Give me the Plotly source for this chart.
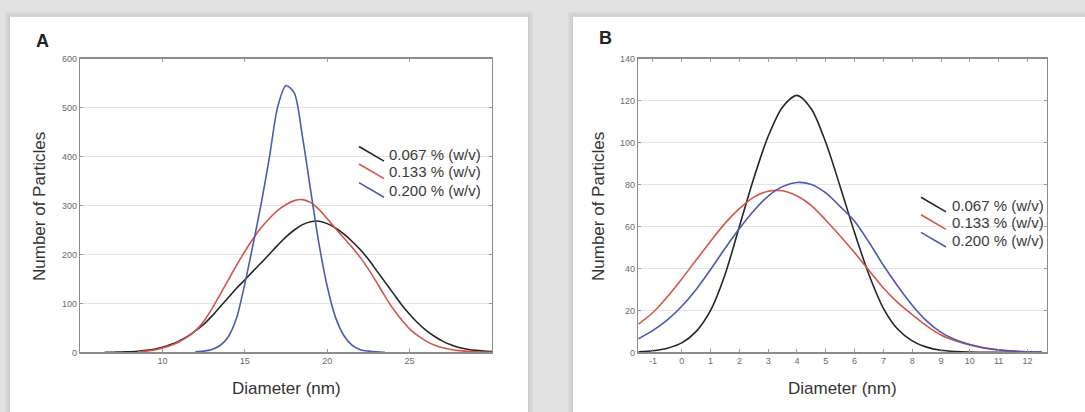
import plotly.graph_objects as go

W, H = 1085, 412

# ---------------- Panel A data (Diameter nm, Number of particles) ----------------
A_X_0067 = [6.5, 7.0, 7.5, 8.0, 8.5, 9.0, 9.5, 10.0, 10.5, 11.0, 11.5, 12.0, 12.5, 13.0, 13.5, 14.0,
            14.5, 15.0, 15.5, 16.0, 16.5, 17.0, 17.5, 18.0, 18.5, 19.0, 19.5, 20.0, 20.5, 21.0, 21.5,
            22.0, 22.5, 23.0, 23.5, 24.0, 24.5, 25.0, 25.5, 26.0, 26.5, 27.0, 27.5, 28.0, 28.5, 29.0,
            29.5, 30.0]
A_Y_0067 = [0, 0.3, 0.7, 1.3, 2.2, 4, 6.5, 10.5, 16, 23, 32, 44, 57, 74, 93, 112,
            131, 148, 166, 183, 201, 219, 236, 250, 261, 267, 268, 263, 254, 242, 227,
            210, 190, 167, 144, 121, 98, 78, 60, 45, 33, 23, 15.5, 10, 6.5, 4,
            2.5, 1.5]

A_X_0133 = [8.5, 9.0, 9.5, 10.0, 10.5, 11.0, 11.5, 12.0, 12.5, 13.0, 13.5, 14.0, 14.5, 15.0,
            15.5, 16.0, 16.5, 17.0, 17.5, 18.0, 18.5, 19.0, 19.5, 20.0, 20.5, 21.0, 21.5, 22.0,
            22.5, 23.0, 23.5, 24.0, 24.5, 25.0, 25.5, 26.0, 26.5, 27.0, 27.5, 28.0, 28.5, 29.0,
            29.5, 30.0]
A_Y_0133 = [1, 2.5, 5, 9, 14, 21, 31, 44, 63, 89, 118, 148, 178, 206,
            232, 255, 274, 290, 302, 310, 312, 306, 292, 273, 253, 234, 215, 194,
            170, 143, 115, 89, 67, 48, 34, 23, 15, 9.5, 6, 3.5, 2, 1,
            0.5, 0.2]

A_X_0200 = [12.0, 12.5, 13.0, 13.5, 14.0, 14.5, 15.0, 15.5, 16.0, 16.5, 17.0, 17.5, 18.0, 18.5,
            19.0, 19.5, 20.0, 20.5, 21.0, 21.5, 22.0, 22.5, 23.0, 23.5]
A_Y_0200 = [1, 2.5, 6, 14, 32, 70, 140, 220, 305, 400, 502, 545, 530, 440,
            330, 222, 135, 72, 35, 14.6, 5.5, 2.5, 1, 0.3]

A_XTICKS = [10, 15, 20, 25]

# ---------------- Panel B data ----------------
B_X = [-1.5, -1.0, -0.5, 0.0, 0.5, 1.0, 1.5, 2.0, 2.5, 3.0, 3.5, 4.0, 4.5, 5.0, 5.5, 6.0, 6.5,
       7.0, 7.5, 8.0, 8.5, 9.0, 9.5, 10.0, 10.5, 11.0, 11.5, 12.0, 12.5]
B_Y_0067 = [0.3, 0.8, 2, 4.5, 10, 20, 37, 60, 83, 103, 117, 122.5, 116, 100, 79, 57, 37,
            21, 11, 5.5, 2.5, 1, 0.4, 0.1, 0, 0, 0, 0, 0]
B_Y_0133 = [13.5, 19, 26.5, 35, 44, 53, 61.5, 68.5, 74, 76.8, 77, 74.5, 70, 63, 55.5, 47.5, 39,
            30.7, 23.7, 18, 12.6, 8.3, 5.5, 3.5, 2, 1.1, 0.6, 0.3, 0.1]
B_Y_0200 = [6.5, 10.5, 15.5, 22, 30, 39.5, 49.5, 59, 67.5, 74.5, 79, 81, 80, 76, 69.5, 62.5, 52.5,
            41.5, 31.5, 22.5, 15, 9.5, 6, 3.7, 2.2, 1.2, 0.6, 0.3, 0.1]

B_XTICKS = [-1, 0, 1, 2, 3, 4, 5, 6, 7, 8, 9, 10, 11, 12]
B_XTICKTEXT = ["-1", "0", "1", "2", "3", "4", "5", "6", "7", "8", "9", "10", "11", "12"]

SERIES_NAMES = ["0.067 % (w/v)", "0.133 % (w/v)", "0.200 % (w/v)"]
COLORS = ["#262626", "#d4564b", "#4d5ab0"]

FONT = "Liberation Sans, Arial, sans-serif"


def fx(px):
    return px / W


def fy(py):
    return 1 - py / H


fig = go.Figure()

panel_a = [(A_X_0067, A_Y_0067), (A_X_0133, A_Y_0133), (A_X_0200, A_Y_0200)]
panel_b = [(B_X, B_Y_0067), (B_X, B_Y_0133), (B_X, B_Y_0200)]

for (xs, ys), name, col in zip(panel_a, SERIES_NAMES, COLORS):
    fig.add_trace(go.Scatter(x=xs, y=ys, mode="lines", name=name,
                             line=dict(color=col, width=1.6, shape="spline", smoothing=0.8),
                             xaxis="x", yaxis="y", showlegend=False, hoverinfo="skip"))
for (xs, ys), name, col in zip(panel_b, SERIES_NAMES, COLORS):
    fig.add_trace(go.Scatter(x=xs, y=ys, mode="lines", name=name,
                             line=dict(color=col, width=1.6, shape="spline", smoothing=0.8),
                             xaxis="x2", yaxis="y2", showlegend=False, hoverinfo="skip"))

axis_common = dict(showline=True, linecolor="#8c8c8c", linewidth=1.2, mirror="ticks",
                   ticks="inside", ticklen=3, tickcolor="#999999", zeroline=False,
                   tickfont=dict(family=FONT, size=9, color="#6a6a6a"))

plot_top, plot_bot = 55, 356

fig.update_layout(
    width=W, height=H,
    margin=dict(l=0, r=0, t=0, b=0),
    paper_bgcolor="#e2e2e2",
    plot_bgcolor="white",
    font=dict(family=FONT, color="#333333"),
    xaxis=dict(domain=[fx(80), fx(492)], anchor="y", range=[5, 30], tickvals=A_XTICKS,
               showgrid=False, **axis_common),
    yaxis=dict(domain=[fy(plot_bot), fy(plot_top)], anchor="x", range=[0, 600], dtick=100,
               showgrid=True, gridcolor="#e4e4e4", gridwidth=1, **axis_common),
    xaxis2=dict(domain=[fx(638), fx(1047)], anchor="y2", range=[-1.52, 12.68],
                tickvals=B_XTICKS, ticktext=B_XTICKTEXT, showgrid=False, **axis_common),
    yaxis2=dict(domain=[fy(plot_bot), fy(plot_top)], anchor="x2", range=[0, 140], dtick=20,
                showgrid=True, gridcolor="#e4e4e4", gridwidth=1, **axis_common),
)

shapes = []
# card shadows and white cards
for (x0, x1) in [(10, 528), (573, 1095)]:
    for k, c in [(5, "#d9d9d9"), (3, "#d2d2d2"), (1, "#cacaca")]:
        shapes.append(dict(type="rect", xref="paper", yref="paper", layer="below",
                           x0=fx(x0 - k), x1=fx(x1 + k), y0=fy(H + 20), y1=fy(12 - k),
                           line=dict(width=0), fillcolor=c))
    shapes.append(dict(type="rect", xref="paper", yref="paper", layer="below",
                       x0=fx(x0), x1=fx(x1), y0=fy(H + 20), y1=fy(12),
                       line=dict(width=0), fillcolor="white"))

annotations = []
# legends (diagonal line samples + labels)
legend_specs = [(359, 384, 387, [153, 171, 190]), (921, 946, 950, [205, 223, 241])]
for lx0, lx1, tx, rows in legend_specs:
    for row, name, col in zip(rows, SERIES_NAMES, COLORS):
        shapes.append(dict(type="line", xref="paper", yref="paper", layer="above",
                           x0=fx(lx0), x1=fx(lx1), y0=fy(row - 8), y1=fy(row + 7),
                           line=dict(color=col, width=1.6)))
        annotations.append(dict(xref="paper", yref="paper", x=fx(tx), y=fy(row),
                                xanchor="left", yanchor="middle", showarrow=False,
                                text=name, font=dict(family=FONT, size=15, color="#3a3a3a")))

# axis titles
for cx in [286, 842]:
    annotations.append(dict(xref="paper", yref="paper", x=fx(cx), y=fy(393),
                            xanchor="center", yanchor="middle", showarrow=False,
                            text="Diameter (nm)", font=dict(family=FONT, size=17, color="#333333")))
for cx in [40, 599]:
    annotations.append(dict(xref="paper", yref="paper", x=fx(cx), y=fy(207),
                            xanchor="center", yanchor="middle", showarrow=False, textangle=-90,
                            text="Number of Particles", font=dict(family=FONT, size=17, color="#333333")))

# panel letters
for lbl, lx, ly in [("A", 42, 37), ("B", 605, 34)]:
    annotations.append(dict(xref="paper", yref="paper", x=fx(lx), y=fy(ly),
                            xanchor="center", yanchor="middle", showarrow=False,
                            text="<b>" + lbl + "</b>", font=dict(family=FONT, size=18, color="#222222")))

fig.update_layout(shapes=shapes, annotations=annotations)

fig.write_html("out.html",
               config={"displayModeBar": False, "staticPlot": True},
               post_script="document.body.style.margin='0';document.body.style.padding='0';"
                           "document.body.style.background='#e2e2e2';")
